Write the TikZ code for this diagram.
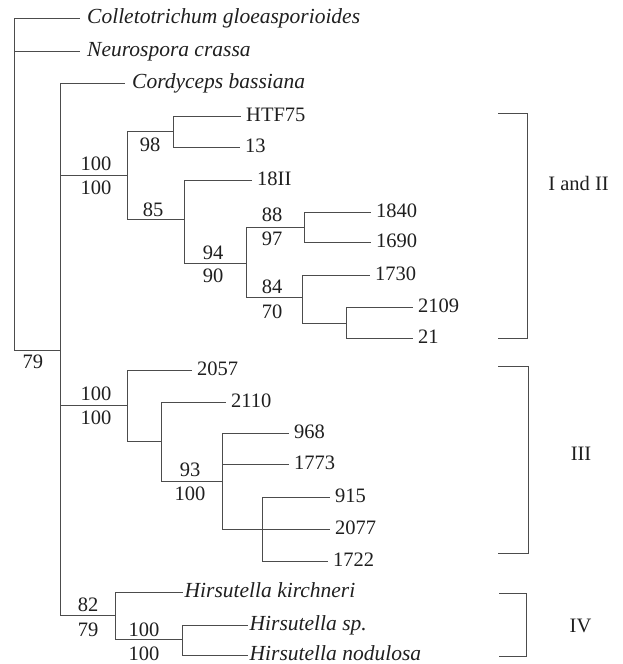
\documentclass[tikz,border=0pt]{standalone}
\usepackage{fontspec}
\setmainfont{Liberation Serif}
\begin{document}
\begin{tikzpicture}[x=1pt,y=-1pt,
  br/.style={draw=black!70, line width=0.9pt},
  leaf/.style={anchor=base west, inner sep=0pt, xshift=5pt, yshift=-5.5pt, text=black!88, font=\fontsize{20.5}{24}\selectfont},
  sp/.style={leaf, xshift=2pt, font=\fontsize{21.5}{25}\selectfont\itshape},
  hs/.style={leaf, xshift=-3.5pt, font=\fontsize{21.5}{25}\selectfont\itshape},
  bs/.style={inner sep=0pt, text=black!88, font=\fontsize{20.5}{24}\selectfont},
  grp/.style={inner sep=0pt, text=black!88, font=\fontsize{20.5}{24}\selectfont}]
\useasboundingbox (0,0) rectangle (623,664);
% internal nodes
\coordinate (R) at (14,350);
\coordinate (A) at (60,350);
\coordinate (B) at (127,175);
\coordinate (E) at (173,131);
\coordinate (F) at (184,219);
\coordinate (G) at (246,263);
\coordinate (H) at (304,227);
\coordinate (I) at (302,297);
\coordinate (J) at (346,323);
\coordinate (C) at (127,405);
\coordinate (K) at (161,441);
\coordinate (L) at (222,481);
\coordinate (M) at (262,529);
\coordinate (D) at (115,615);
\coordinate (N) at (182,639);
% leaf ends
\coordinate (lColl) at (80,18);
\coordinate (lNeur) at (80,51);
\coordinate (lCord) at (125,83);
\coordinate (lHTF) at (241,116);
\coordinate (l13) at (240,147);
\coordinate (l18) at (252,180);
\coordinate (l1840) at (371,212);
\coordinate (l1690) at (371,242);
\coordinate (l1730) at (370,275);
\coordinate (l2109) at (413,307);
\coordinate (l21) at (413,338);
\coordinate (l2057) at (192,370);
\coordinate (l2110) at (226,402);
\coordinate (l968) at (289,433);
\coordinate (l1773) at (289,464);
\coordinate (l915) at (330,497);
\coordinate (l2077) at (330,529);
\coordinate (l1722) at (328,561);
\coordinate (lHk) at (183,592);
\coordinate (lHsp) at (248,625);
\coordinate (lHn) at (248,655);
% branches
\draw[br] (R) |- (lColl);
\draw[br] (R) |- (lNeur);
\draw[br] (R) -- (A);
\draw[br] (A) |- (lCord);
\draw[br] (A) |- (B);
\draw[br] (A) |- (C);
\draw[br] (A) |- (D);
\draw[br] (B) |- (E);
\draw[br] (B) |- (F);
\draw[br] (E) |- (lHTF);
\draw[br] (E) |- (l13);
\draw[br] (F) |- (l18);
\draw[br] (F) |- (G);
\draw[br] (G) |- (H);
\draw[br] (G) |- (I);
\draw[br] (H) |- (l1840);
\draw[br] (H) |- (l1690);
\draw[br] (I) |- (l1730);
\draw[br] (I) |- (J);
\draw[br] (J) |- (l2109);
\draw[br] (J) |- (l21);
\draw[br] (C) |- (l2057);
\draw[br] (C) |- (K);
\draw[br] (K) |- (l2110);
\draw[br] (K) |- (L);
\draw[br] (L) |- (l968);
\draw[br] (L) |- (l1773);
\draw[br] (L) |- (M);
\draw[br] (M) |- (l915);
\draw[br] (M) -- (l2077);
\draw[br] (M) |- (l1722);
\draw[br] (D) |- (lHk);
\draw[br] (D) |- (N);
\draw[br] (N) |- (lHsp);
\draw[br] (N) |- (lHn);
% leaf labels
\node[sp] (tColl) at (lColl) {Colletotrichum gloeasporioides};
\node[sp] (tNeur) at (lNeur) {Neurospora crassa};
\node[sp] (tCord) at (lCord) {Cordyceps bassiana};
\node[leaf] (tHTF) at (lHTF) {HTF75};
\node[leaf] (t13) at (l13) {13};
\node[leaf] (t18) at (l18) {18II};
\node[leaf] (t1840) at (l1840) {1840};
\node[leaf] (t1690) at (l1690) {1690};
\node[leaf] (t1730) at (l1730) {1730};
\node[leaf] (t2109) at (l2109) {2109};
\node[leaf] (t21) at (l21) {21};
\node[leaf] (t2057) at (l2057) {2057};
\node[leaf] (t2110) at (l2110) {2110};
\node[leaf] (t968) at (l968) {968};
\node[leaf] (t1773) at (l1773) {1773};
\node[leaf] (t915) at (l915) {915};
\node[leaf] (t2077) at (l2077) {2077};
\node[leaf] (t1722) at (l1722) {1722};
\node[hs] (tHk) at (lHk) {Hirsutella kirchneri};
\node[hs] (tHsp) at (lHsp) {Hirsutella sp.};
\node[hs] (tHn) at (lHn) {Hirsutella nodulosa};
% bootstrap values
\node[bs] (v1) at (33,362) {79};
\node[bs] (v2) at (96,164) {100};
\node[bs] (v3) at (96,188) {100};
\node[bs] (v4) at (150,145) {98};
\node[bs] (v5) at (153,210) {85};
\node[bs] (v6) at (213,253) {94};
\node[bs] (v7) at (213,276) {90};
\node[bs] (v8) at (272,215) {88};
\node[bs] (v9) at (272,238.5) {97};
\node[bs] (v10) at (272,287) {84};
\node[bs] (v11) at (272,311.5) {70};
\node[bs] (v12) at (96,394) {100};
\node[bs] (v13) at (96,418) {100};
\node[bs] (v14) at (190,470) {93};
\node[bs] (v15) at (190,494) {100};
\node[bs] (v16) at (88,604.5) {82};
\node[bs] (v17) at (88,629.5) {79};
\node[bs] (v18) at (144,630) {100};
\node[bs] (v19) at (144,653.5) {100};
% group brackets
\coordinate (bIa) at (498,113);
\coordinate (bIb) at (527,338);
\coordinate (bIIIa) at (498,366);
\coordinate (bIIIb) at (528,553);
\coordinate (bIVa) at (499,593);
\coordinate (bIVb) at (526,656);
\draw[br] (bIa) -| (bIb) -- (bIa |- bIb);
\draw[br] (bIIIa) -| (bIIIb) -- (bIIIa |- bIIIb);
\draw[br] (bIVa) -| (bIVb) -- (bIVa |- bIVb);
\node[grp] (gI) at (578.5,183) {I and II};
\node[grp] (gIII) at (581,453.5) {III};
\node[grp] (gIV) at (580.5,625.5) {IV};
\end{tikzpicture}
\end{document}
